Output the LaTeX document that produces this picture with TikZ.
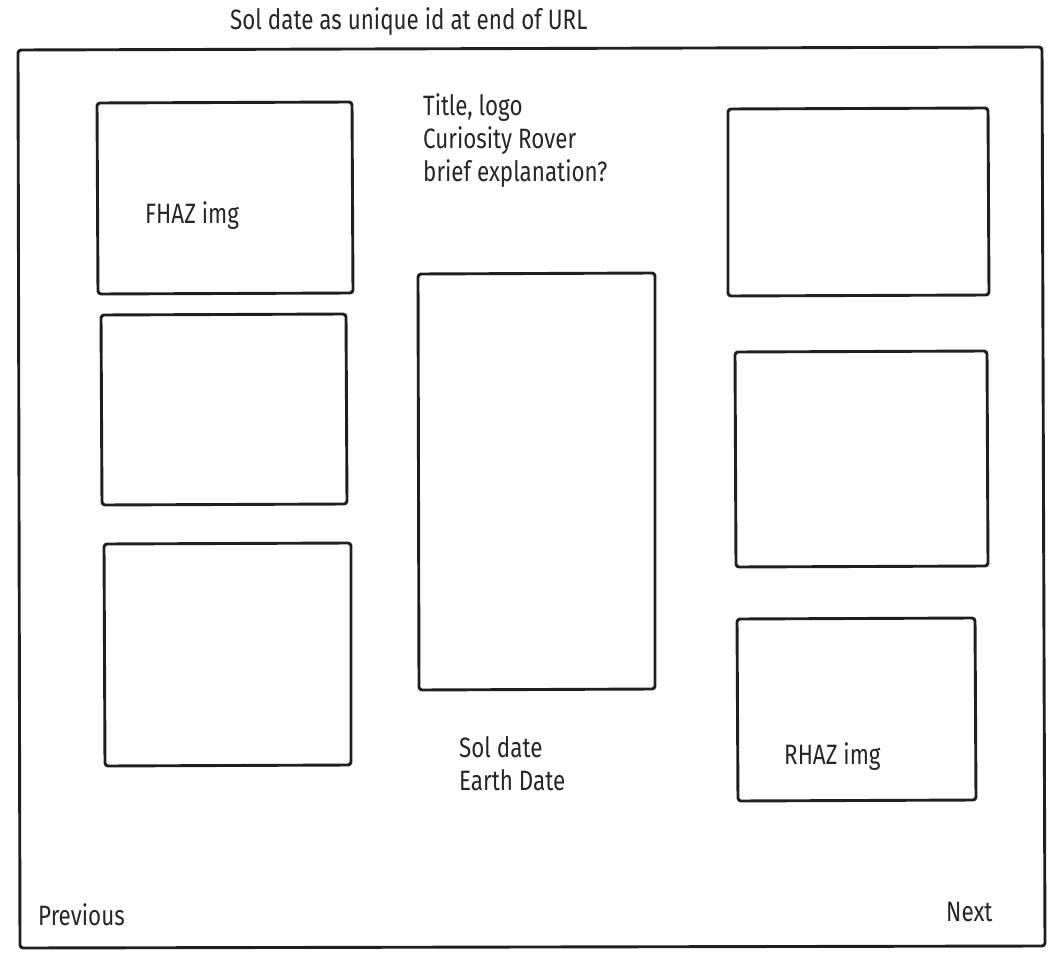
\documentclass[tikz,border=0pt]{standalone}
\usepackage{fontspec}
\setmainfont{Fira Sans}[FakeStretch=0.8]
\begin{document}
\begin{tikzpicture}[x=1pt,y=-1pt,
  sketch/.style={draw=black!88,line width=2.9pt,rounded corners=3pt,line join=round},
  lbl/.style={anchor=base west,inner sep=0pt,font=\fontsize{28}{33}\selectfont,text=black!85,align=left}]
\useasboundingbox (0,0) rectangle (1058,976);
% outer frame
\draw[sketch] (18,50) -- (1042,47) -- (1045,946) -- (20,948) -- cycle;
% left column
\draw[sketch] (97,103) -- (352,102) -- (353,293) -- (98,294) -- cycle;
\draw[sketch] (101,315) -- (346,314) -- (347,504) -- (102,505) -- cycle;
\draw[sketch] (104,544) -- (351,543) -- (351,765) -- (105,766) -- cycle;
% centre
\draw[sketch] (418,274) -- (655,273) -- (655,689) -- (419,690) -- cycle;
% right column
\draw[sketch] (728,109) -- (988,108) -- (989,295) -- (728,296) -- cycle;
\draw[sketch] (735,352) -- (987,351) -- (988,566) -- (736,567) -- cycle;
\draw[sketch] (737,619) -- (975,618) -- (976,800) -- (738,801) -- cycle;
% texts (multi-line nodes: base = last line)
\node[lbl] (url) at (230,30) {Sol date as unique id at end of URL};
\node[lbl] (title) at (423,182) {Title, logo\\Curiosity Rover\\brief explanation?};
\node[lbl] (fhaz) at (145,224) {FHAZ img};
\node[lbl] (dates) at (459,790) {Sol date\\Earth Date};
\node[lbl] (rhaz) at (784,764) {RHAZ img};
\node[lbl] (prev) at (38,925) {Previous};
\node[lbl] (next) at (946,921) {Next};
\end{tikzpicture}
\end{document}
